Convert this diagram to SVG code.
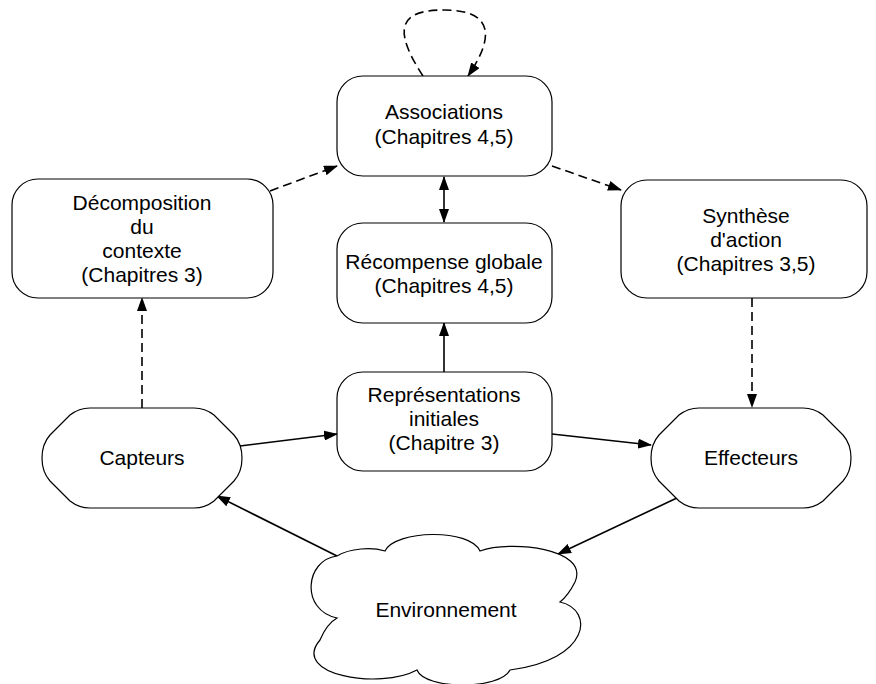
<svg xmlns="http://www.w3.org/2000/svg" width="876" height="684" viewBox="0 0 876 684">
<defs>
<marker id="ah" viewBox="0 0 14 10" refX="13" refY="5" markerWidth="14" markerHeight="10" markerUnits="userSpaceOnUse" orient="auto-start-reverse">
<path d="M0,0 L14,5 L0,10 Z" fill="#000"/>
</marker>
<path id="hex" d="M90 408 L194 408 Q205 408 214 415 L234 435 Q242 444 242 458 Q242 472 234 481 L214 501 Q205 508 194 508 L90 508 Q79 508 70 501 L50 481 Q42 472 42 458 Q42 444 50 435 L70 415 Q79 408 90 408 Z"/>
</defs>
<style>
.box{fill:#fff;stroke:#000;stroke-width:1.2}
.t{font-family:"Liberation Sans",Arial,sans-serif;font-size:21px;fill:#000;text-anchor:middle}
.c{fill:none;stroke:#000;stroke-width:1.6}
.d{stroke-dasharray:9 5}
</style>
<rect width="876" height="684" fill="#fff"/>
<g id="connectors">
<path class="c d" d="M423 76 C393 30 398 10 444 10 C492 10 496 35 468 76" marker-end="url(#ah)"/>
<line class="c d" x1="270" y1="191" x2="337" y2="166" marker-end="url(#ah)"/>
<line class="c d" x1="552" y1="166" x2="621" y2="190" marker-end="url(#ah)"/>
<line class="c" x1="444" y1="177" x2="444" y2="222" marker-start="url(#ah)" marker-end="url(#ah)"/>
<line class="c" x1="444" y1="372" x2="444" y2="323" marker-end="url(#ah)"/>
<line class="c d" x1="142" y1="408" x2="142" y2="298" marker-end="url(#ah)"/>
<line class="c d" x1="752" y1="298" x2="752" y2="407" marker-end="url(#ah)"/>
<line class="c" x1="240" y1="446" x2="337" y2="434" marker-end="url(#ah)"/>
<line class="c" x1="552" y1="434" x2="651" y2="445" marker-end="url(#ah)"/>
<line class="c" x1="679" y1="497" x2="558" y2="554" marker-end="url(#ah)"/>
<line class="c" x1="337" y1="556" x2="217" y2="496" marker-end="url(#ah)"/>
</g>
<g id="associations">
<rect class="box" x="337" y="76" width="215" height="100" rx="26"/>
<text class="t" x="444" y="119">Associations</text>
<text class="t" x="444" y="144">(Chapitres 4,5)</text>
</g>
<g id="decomposition">
<rect class="box" x="12" y="179" width="261" height="119" rx="26"/>
<text class="t" x="142" y="210">Décomposition</text>
<text class="t" x="142" y="234">du</text>
<text class="t" x="142" y="258">contexte</text>
<text class="t" x="142" y="282">(Chapitres 3)</text>
</g>
<g id="synthese">
<rect class="box" x="621" y="180" width="246" height="118" rx="26"/>
<text class="t" x="746" y="223">Synthèse</text>
<text class="t" x="746" y="247">d'action</text>
<text class="t" x="746" y="271">(Chapitres 3,5)</text>
</g>
<g id="recompense">
<rect class="box" x="337" y="223" width="215" height="100" rx="26"/>
<text class="t" x="444" y="269">Récompense globale</text>
<text class="t" x="444" y="293">(Chapitres 4,5)</text>
</g>
<g id="representations">
<rect class="box" x="337" y="372" width="215" height="99" rx="26"/>
<text class="t" x="444" y="402">Représentations</text>
<text class="t" x="444" y="426">initiales</text>
<text class="t" x="444" y="450">(Chapitre 3)</text>
</g>
<g id="capteurs">
<use href="#hex" class="box"/>
<text class="t" x="142" y="465">Capteurs</text>
</g>
<g id="effecteurs">
<use href="#hex" class="box" transform="translate(609,0)"/>
<text class="t" x="751" y="465">Effecteurs</text>
</g>
<g id="environnement">
<path class="box" d="M337 556 C350 548 372 547 385 551 C395 530 470 528 480 551 C510 540 590 548 575 582 C570 592 565 598 560 602 C595 610 590 660 510 670 C500 690 425 690 417 670 C380 690 290 675 320 640 C325 628 330 622 337 618 C300 610 305 560 337 556 Z"/>
<text class="t" x="446" y="617">Environnement</text>
</g>
</svg>
